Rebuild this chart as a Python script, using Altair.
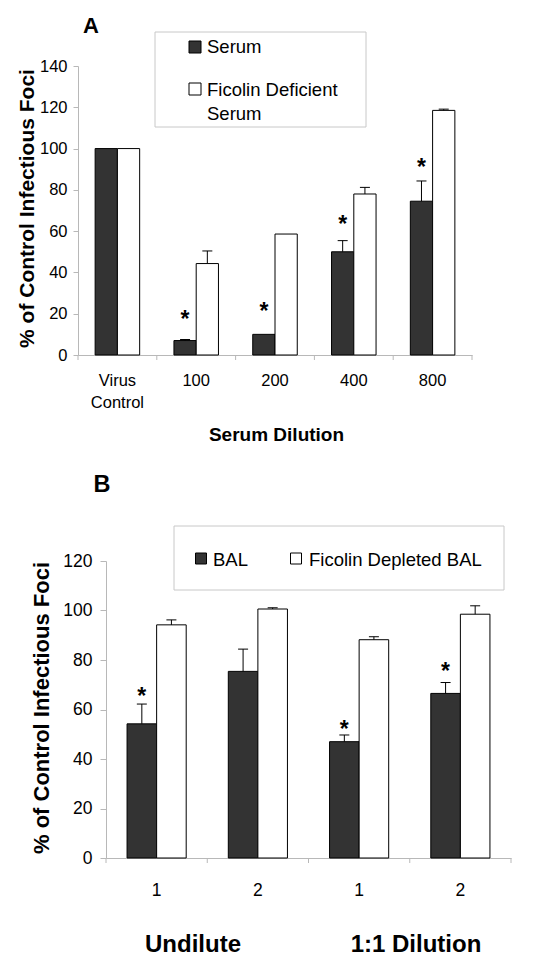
import textwrap
import altair as alt
import pandas as pd

FONT = "Liberation Sans"
GRAY = "#b8b8b8"
BOX = "#c8c8c8"
DARK = "#333333"

# ---------------- Panel A data ----------------
A_categories = ["Virus Control", "100", "200", "400", "800"]
A_series = ["Serum", "Ficolin Deficient Serum"]
A_serum = [100, 7, 10, 50, 74.5]
A_serum_err = [0, 0.5, 0, 5.4, 9.8]
A_ficolin = [100, 44.3, 58.6, 78, 118.5]
A_ficolin_err = [0, 6.1, 0, 3.2, 0.6]
A_star = [None, 19.7, 23.7, 65.7, 93.4]

# ---------------- Panel B data ----------------
B_categories = ["Undilute 1", "Undilute 2", "1:1 Dilution 1", "1:1 Dilution 2"]
B_groups = ["Undilute", "1:1 Dilution"]
B_series = ["BAL", "Ficolin Depleted BAL"]
B_bal = [54.2, 75.4, 47.0, 66.5]
B_bal_err = [8.0, 9.0, 2.7, 4.4]
B_ficolin = [94.2, 100.6, 88.2, 98.5]
B_ficolin_err = [2.0, 0.5, 1.2, 3.4]
B_star = [67.5, None, 54.0, 77.4]

COLORS = [DARK, "#ffffff"]


def long_df(cats, series, vals, errs, stars):
    rows = []
    for si, s in enumerate(series):
        for ci, c in enumerate(cats):
            v = vals[si][ci]
            e = errs[si][ci]
            rows.append(dict(cat=c, series=s, value=v, err=e, top=v + e,
                             star=stars[ci] if si == 0 else None))
    return pd.DataFrame(rows)


def panel(cats, series, df, *, width, height, xrange, ymax, yoffset,
          label_expr, label_size, label_line, label_padding,
          y_label_size, y_tick, y_label_pad, ytitle_size, ytitle_x, ytitle_y,
          xtitle, xoff_pad, letter, letter_xy, letter_size,
          box, sq_pos, sq_size, txt_pos, legend_wrap, extra_layers):
    xscale = alt.Scale(domain=cats, range=xrange, paddingInner=0, paddingOuter=0)
    xoff = alt.XOffset("series:N", sort=series,
                       scale=alt.Scale(domain=series, paddingInner=0, paddingOuter=xoff_pad))
    yscale = alt.Scale(domain=[0, ymax], nice=False)
    x_axis_kw = dict(labelExpr=label_expr, labelFontSize=label_size, labelLineHeight=label_line,
                     labelPadding=label_padding, ticks=False, tickSize=0, domainColor=GRAY,
                     labelAngle=0, labelColor="black", labelFont=FONT)
    if xtitle:
        x_axis_kw.update(title=xtitle[0], titleFontSize=xtitle[1], titleFontWeight="bold",
                         titleX=xtitle[2], titleY=xtitle[3], titleBaseline="alphabetic",
                         titleAlign="center", titleColor="black", titleFont=FONT)
    else:
        x_axis_kw.update(title=None)
    y_axis = alt.Axis(values=list(range(0, ymax + 1, 20)), title="% of Control Infectious Foci",
                      titleFontSize=ytitle_size, titleFontWeight="bold", titleX=ytitle_x,
                      titleY=ytitle_y, titleAngle=270, titleBaseline="alphabetic",
                      titleAlign="center", offset=yoffset, tickSize=y_tick, labelPadding=y_label_pad,
                      labelFontSize=y_label_size, domainColor=GRAY, tickColor=GRAY, grid=False,
                      labelColor="black", titleColor="black", labelFont=FONT, titleFont=FONT)

    X = lambda: alt.X("cat:N", sort=cats, scale=xscale)
    bars = alt.Chart(df).mark_bar(stroke="black", strokeWidth=1).encode(
        x=alt.X("cat:N", sort=cats, scale=xscale, axis=alt.Axis(**x_axis_kw)),
        xOffset=xoff,
        y=alt.Y("value:Q", scale=yscale, axis=y_axis),
        color=alt.Color("series:N", sort=series,
                        scale=alt.Scale(domain=series, range=COLORS), legend=None),
    )
    edf = df[df["err"] > 0]
    err_rule = alt.Chart(edf).mark_rule(color="black", strokeWidth=1).encode(
        x=X(), xOffset=xoff,
        y=alt.Y("value:Q", scale=yscale),
        y2="top:Q",
    )
    err_cap = alt.Chart(edf).mark_point(shape="M-1,0L1,0", size=100, filled=False,
                                        color="black", strokeWidth=1, opacity=1).encode(
        x=X(), xOffset=xoff,
        y=alt.Y("top:Q", scale=yscale),
    )
    sdf = df[df["star"].notna()]
    stars = alt.Chart(sdf).mark_text(text="*", fontSize=23, fontWeight="bold",
                                     baseline="alphabetic", dy=13, color="black").encode(
        x=X(), xOffset=xoff,
        y=alt.Y("star:Q", scale=yscale),
    )
    cdf = pd.DataFrame({"cat": cats})
    xticks = alt.Chart(cdf).mark_rule(color=GRAY).encode(
        x=alt.X("cat:N", sort=cats, scale=xscale, bandPosition=0),
        y=alt.value(height), y2=alt.value(height + 5),
    )
    xend = alt.Chart(cdf.head(1)).mark_rule(color=GRAY).encode(
        x=alt.value(xrange[1]), y=alt.value(height), y2=alt.value(height + 5),
    )
    letter_t = alt.Chart(pd.DataFrame({"t": [letter]})).mark_text(
        fontSize=letter_size, fontWeight="bold", align="center", baseline="alphabetic",
        color="black").encode(x=alt.value(letter_xy[0]), y=alt.value(letter_xy[1]), text="t:N")
    legend_box = alt.Chart(pd.DataFrame({"t": [0]})).mark_rect(
        fill="white", stroke=BOX, strokeWidth=1).encode(
        x=alt.value(box[0]), x2=alt.value(box[1]), y=alt.value(box[2]), y2=alt.value(box[3]))
    layers = [bars, legend_box, xticks, xend, err_rule, err_cap, stars, letter_t]
    for i, (name, col) in enumerate(zip(series, COLORS)):
        sq = alt.Chart(pd.DataFrame({"series": [name]})).mark_square(
            size=sq_size, filled=True, fill=col, stroke="black", strokeWidth=1, opacity=1).encode(
            x=alt.value(sq_pos[i][0]), y=alt.value(sq_pos[i][1]))
        lab = "\n".join(textwrap.wrap(name, legend_wrap))
        tx = alt.Chart(pd.DataFrame({"label": [lab]})).mark_text(
            align="left", baseline="alphabetic", fontSize=18.5, lineBreak="\n", lineHeight=24,
            color="black").encode(
            x=alt.value(txt_pos[i][0]), y=alt.value(txt_pos[i][1]), text="label:N")
        layers += [sq, tx]
    layers += extra_layers
    return alt.layer(*layers).properties(width=width, height=height)


dfA = long_df(A_categories, A_series, [A_serum, A_ficolin], [A_serum_err, A_ficolin_err], A_star)
dfB = long_df(B_categories, B_series, [B_bal, B_ficolin], [B_bal_err, B_ficolin_err], B_star)

chartA = panel(
    A_categories, A_series, dfA, width=366, height=289, xrange=[-28, 366], ymax=140, yoffset=28,
    label_expr="split(datum.label, ' ')", label_size=16.5, label_line=22, label_padding=17,
    y_label_size=16.5, y_tick=5, y_label_pad=6, ytitle_size=21, ytitle_x=-45, ytitle_y=142,
    xtitle=("Serum Dilution", 19, 170, 85), xoff_pad=0.77, letter="A", letter_xy=(-15, -33),
    letter_size=22, box=(49, 260, -34, 61), sq_pos=[(89, -19), (89, 23)], sq_size=144,
    txt_pos=[(101, -13), (101, 30)], legend_wrap=17, extra_layers=[],
)

group_layers = []
for name, gx in zip(B_groups, [87, 310]):
    group_layers.append(alt.Chart(pd.DataFrame({"g": [name]})).mark_text(
        fontSize=24, fontWeight="bold", align="center", baseline="alphabetic", color="black"
    ).encode(x=alt.value(gx), y=alt.value(391), text="g:N"))

chartB = panel(
    B_categories, B_series, dfB, width=405, height=297, xrange=[0, 405], ymax=120, yoffset=0,
    label_expr="substring(datum.label, length(datum.label) - 1)", label_size=17.5, label_line=20,
    label_padding=23, y_label_size=17.5, y_tick=6, y_label_pad=8, ytitle_size=22, ytitle_x=-58,
    ytitle_y=146.5, xtitle=None, xoff_pad=0.712, letter="B", letter_xy=(-4, -69),
    letter_size=23.5, box=(68, 398, -35, 29), sq_pos=[(95, -2.5), (190, -2.5)], sq_size=121,
    txt_pos=[(107, 5), (203, 5)], legend_wrap=40, extra_layers=group_layers,
)

chart = alt.vconcat(chartA, chartB, spacing=29).resolve_scale(
    x="independent", y="independent", xOffset="independent", color="independent"
).configure_view(stroke=None).configure_text(font=FONT).properties(
    padding={"left": 7, "top": 7, "right": 5, "bottom": 5})

chart.save("out.html", embed_options={"renderer": "svg", "actions": False})
